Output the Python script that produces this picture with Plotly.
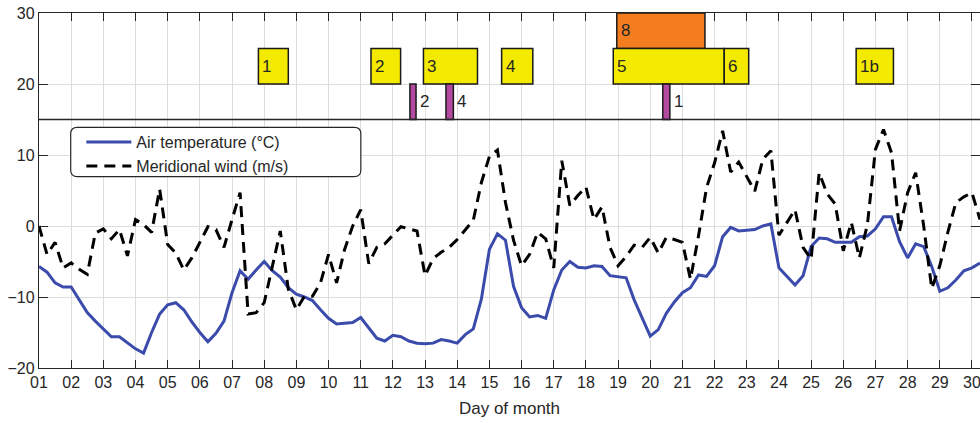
import plotly.graph_objects as go

# ---- time axis (6-hourly samples, day of month) ----
t_start_day = 1.0
n_samples = 118
days = [t_start_day + 0.25 * i for i in range(n_samples)]

# ---- air temperature (°C), 4 samples per day ----
air_temp = [
    -5.7, -6.5, -8.0, -8.6,
    -8.6, -10.4, -12.2, -13.4,
    -14.5, -15.6, -15.6, -16.4,
    -17.3, -17.9, -15.0, -12.4,
    -11.1, -10.8, -11.8, -13.5,
    -15.0, -16.3, -15.1, -13.4,
    -9.4, -6.3, -7.5, -6.2,
    -5.0, -6.3, -7.2, -8.7,
    -9.6, -10.0, -10.5, -11.8,
    -13.0, -13.8, -13.7, -13.6,
    -12.9, -14.4, -15.8, -16.2,
    -15.4, -15.6, -16.2, -16.5,
    -16.6, -16.5, -16.0, -16.2,
    -16.5, -15.3, -14.5, -10.3,
    -3.3, -1.1, -2.0, -8.5,
    -11.5, -12.8, -12.6, -13.0,
    -9.0, -6.2, -5.0, -5.8,
    -5.9, -5.6, -5.7, -7.0,
    -7.2, -7.3, -10.4, -13.0,
    -15.5, -14.6, -12.3, -10.7,
    -9.4, -8.7, -6.9, -7.1,
    -5.6, -1.5, -0.2, -0.7,
    -0.6, -0.5, 0.0, 0.3,
    -5.9, -7.1, -8.3, -7.0,
    -2.9, -1.7, -1.8, -2.3,
    -2.3, -2.3, -1.5, -1.4,
    -0.4, 1.3, 1.3, -2.2,
    -4.5, -2.5, -2.9, -5.7,
    -9.2, -8.7, -7.6, -6.3,
    -5.9, -5.2,
]

# ---- meridional wind (m/s), 4 samples per day ----
merid_wind = [
    0.0, -4.0, -2.3, -5.9,
    -5.2, -6.1, -6.8, -1.0,
    -0.4, -1.8, -0.5, -4.2,
    0.9, 0.2, -0.9, 5.2,
    -2.6, -3.8, -6.2, -4.5,
    -2.3, -0.1, -0.5, -3.0,
    0.9, 4.7, -12.4, -12.2,
    -10.8, -5.5, -0.7, -8.9,
    -11.8, -9.9, -9.9, -8.0,
    -4.0, -8.0, -3.3, 0.0,
    2.3, -5.3, -3.0, -2.5,
    -1.3, -0.1, -0.4, -0.7,
    -7.0, -4.6, -3.7, -3.0,
    -1.9, -0.5, 0.8, 6.1,
    9.8, 10.7, 3.3, -2.0,
    -5.6, -4.0, -0.9, -1.8,
    -5.9, 9.2, 2.9, 4.3,
    5.5, 0.9, 2.7, -3.0,
    -5.6, -4.3, -2.7, -3.0,
    -1.6, -3.8, -1.6, -1.9,
    -2.3, -7.5, -1.4, 5.4,
    8.9, 13.4, 7.6, 9.0,
    7.0, 4.9, 9.4, 10.6,
    -1.3, 0.5, 2.3, -3.0,
    -4.7, 7.5, 4.5, 3.1,
    -3.5, 0.5, -4.5, 0.2,
    10.8, 13.6, 10.3, -0.7,
    4.7, 7.5, 0.0, -8.8,
    -5.6, -0.9, 3.3, 4.1,
    4.7, 0.9,
]

# ---- event periods (day of month) ----
yellow_labels = ["1", "2", "3", "4", "5", "6", "1b"]
yellow_start = [7.82, 11.32, 12.95, 15.38, 18.85, 22.30, 26.40]
yellow_end = [8.75, 12.24, 14.63, 16.35, 22.30, 23.06, 27.56]

orange_labels = ["8"]
orange_start = [18.96]
orange_end = [21.70]

magenta_labels = ["2", "4", "1"]
magenta_start = [12.53, 13.65, 20.39]
magenta_end = [12.72, 13.88, 20.61]

# band levels (y units)
yellow_band = (20, 25)
orange_band = (25, 30)
magenta_band = (15, 20)
panel_split = 15

# ---- axis ticks ----
x_tickvals = list(range(1, 31))
x_ticktext = [f"{d:02d}" for d in x_tickvals]
y_tickvals = [-20, -10, 0, 10, 20, 30]

TXT = "#262626"
FONT = "Liberation Sans, Arial, sans-serif"

fig = go.Figure()
fig.add_trace(go.Scatter(
    x=days, y=air_temp, mode="lines", name="Air temperature (°C)",
    line=dict(color="#3a4bab", width=3),
))
fig.add_trace(go.Scatter(
    x=days, y=merid_wind, mode="lines", name="Meridional wind (m/s)",
    line=dict(color="black", width=3, dash="11px,7px"),
))

shapes = []
annotations = []
box_line = dict(color="#1a1a1a", width=1.5)


def add_boxes(starts, ends, labels, band, fill, label_inside=True):
    for s, e, lab in zip(starts, ends, labels):
        shapes.append(dict(type="rect", xref="x", yref="y", x0=s, x1=e,
                           y0=band[0], y1=band[1], fillcolor=fill,
                           line=box_line, layer="above"))
        annotations.append(dict(x=s if label_inside else e,
                                y=(band[0] + band[1]) / 2, xref="x", yref="y",
                                text=lab, showarrow=False, xanchor="left",
                                yanchor="middle", xshift=2,
                                font=dict(size=17, color=TXT, family=FONT)))


add_boxes(orange_start, orange_end, orange_labels, orange_band, "#f47d20")
add_boxes(yellow_start, yellow_end, yellow_labels, yellow_band, "#f3ea00")
add_boxes(magenta_start, magenta_end, magenta_labels, magenta_band, "#b34aa0",
          label_inside=False)

# separator line between panels
shapes.append(dict(type="line", xref="paper", yref="y", x0=0, x1=1,
                   y0=panel_split, y1=panel_split,
                   line=dict(color="#262626", width=1.3), layer="above"))

# rounded legend background
lx0, lx1 = 0.0337, 0.342
ly0, ly1 = 0.539, 0.678
rx, ry = 0.007, 0.018
path = (f"M {lx0+rx},{ly0} L {lx1-rx},{ly0} Q {lx1},{ly0} {lx1},{ly0+ry} "
        f"L {lx1},{ly1-ry} Q {lx1},{ly1} {lx1-rx},{ly1} "
        f"L {lx0+rx},{ly1} Q {lx0},{ly1} {lx0},{ly1-ry} "
        f"L {lx0},{ly0+ry} Q {lx0},{ly0} {lx0+rx},{ly0} Z")
shapes.append(dict(type="path", xref="paper", yref="paper", path=path,
                   fillcolor="white", line=dict(color="#262626", width=1.2),
                   layer="above"))

fig.update_layout(
    width=980, height=423,
    margin=dict(l=39, r=0, t=13, b=55),
    paper_bgcolor="white", plot_bgcolor="white",
    font=dict(family=FONT, color=TXT, size=16),
    shapes=shapes, annotations=annotations,
    showlegend=True,
    legend=dict(x=0.045, y=0.684, xanchor="left", yanchor="top",
                bgcolor="rgba(0,0,0,0)", borderwidth=0,
                font=dict(size=16, color=TXT, family=FONT),
                itemwidth=45, tracegroupgap=0),
    xaxis=dict(range=[1, 30.25], tickvals=x_tickvals, ticktext=x_ticktext,
               ticks="inside", ticklen=8, tickcolor="#262626", tickwidth=1.2,
               showline=True, linecolor="#262626", linewidth=1.3, mirror="ticks",
               showgrid=True, gridcolor="#dddddd", gridwidth=1,
               zeroline=False, tickfont=dict(size=16, color=TXT),
               ticklabeloverflow="allow",
               title=dict(text="Day of month", font=dict(size=17, color=TXT), standoff=11)),
    yaxis=dict(range=[-20, 30], tickvals=y_tickvals,
               ticks="inside", ticklen=9, tickcolor="#262626", tickwidth=1.2,
               showline=True, linecolor="#262626", linewidth=1.3, mirror="ticks",
               showgrid=True, gridcolor="#dddddd", gridwidth=1,
               zeroline=False, tickfont=dict(size=16, color=TXT)),
)

fig.write_html("out.html")
